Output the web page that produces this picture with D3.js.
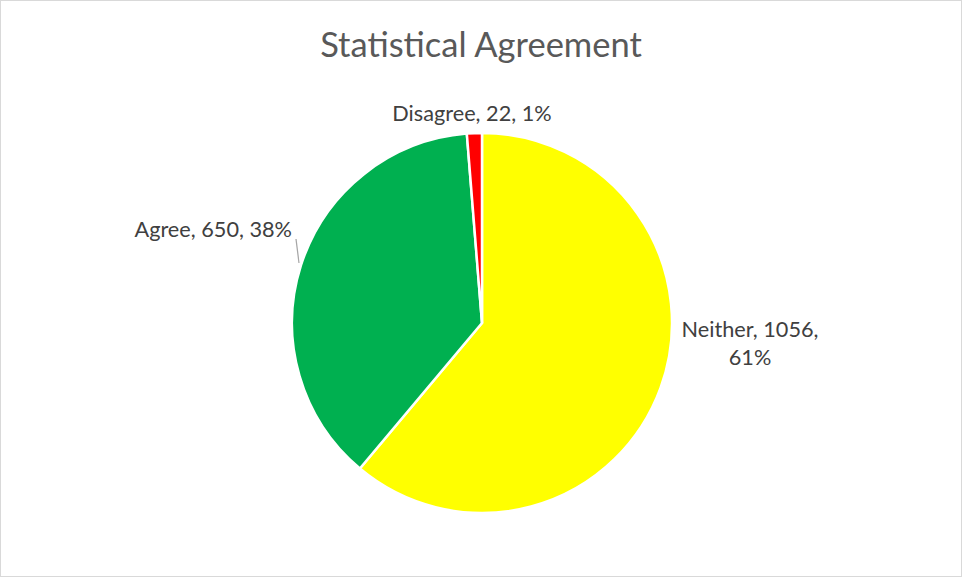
<!DOCTYPE html>
<html>
<head>
<meta charset="utf-8">
<script src="https://cdn.jsdelivr.net/npm/d3@7"></script>
<style>
  body { margin: 0; background: #fff; }
  svg text { font-family: Lato, "Open Sans", sans-serif; }
</style>
</head>
<body>
<div id="chart"></div>
<script>
// Chart data
var categories = ["Neither", "Agree", "Disagree"];
var counts = [1056, 650, 22];
var colors = ["#FFFF00", "#00B050", "#FF0000"];

var svgWidth = 962;
var svgHeight = 577;

var svg = d3.select("#chart")
  .append("svg")
  .attr("width", svgWidth)
  .attr("height", svgHeight);

// Chart area border
svg.append("rect")
  .attr("x", 0.5)
  .attr("y", 0.5)
  .attr("width", svgWidth - 1)
  .attr("height", svgHeight - 1)
  .attr("fill", "#fff")
  .attr("stroke", "#d9d9d9");

// Title
svg.append("text")
  .attr("x", 481)
  .attr("y", 57)
  .attr("text-anchor", "middle")
  .attr("fill", "#595959")
  .style("font-size", "34.5px")
  .text("Statistical Agreement");

var cx = 482, cy = 323, radius = 190;
var total = d3.sum(counts);

var rows = categories.map((c, i) => ({ name: c, value: counts[i], color: colors[i] }));

var pie = d3.pie()
  .sort(null)
  .value(d => d.value);

var arc = d3.arc()
  .innerRadius(0)
  .outerRadius(radius);

var pieGroup = svg.append("g")
  .attr("transform", `translate(${cx}, ${cy})`);

var arcs = pie(rows);

pieGroup.selectAll("path")
  .data(arcs)
  .enter()
  .append("path")
  .attr("d", arc)
  .attr("fill", d => d.data.color)
  .attr("stroke", "#fff")
  .attr("stroke-width", 2.5)
  .attr("stroke-linejoin", "round");

// Label placement (Excel "best fit"), offsets relative to pie center
var labelSpots = {
  Neither: { x: 268, y: 14, anchor: "middle", split: true },
  Agree: { x: -190, y: -86, anchor: "end" },
  Disagree: { x: -10, y: -202, anchor: "middle" }
};

var fmtPct = d => Math.round(d / total * 100) + "%";

arcs.forEach(function (d) {
  var spot = labelSpots[d.data.name];
  var t = pieGroup.append("text")
    .attr("x", spot.x)
    .attr("y", spot.y)
    .attr("text-anchor", spot.anchor)
    .attr("fill", "#404040")
    .style("font-size", "21.7px");
  if (spot.split) {
    t.append("tspan").attr("x", spot.x).text(`${d.data.name}, ${d.data.value},`);
    t.append("tspan").attr("x", spot.x).attr("dy", 28).text(fmtPct(d.data.value));
  } else {
    t.text(`${d.data.name}, ${d.data.value}, ${fmtPct(d.data.value)}`);
  }
});

// Leader line for the Agree label
pieGroup.append("line")
  .attr("x1", -186)
  .attr("y1", -84)
  .attr("x2", -183)
  .attr("y2", -60)
  .attr("stroke", "#a6a6a6")
  .attr("stroke-width", 1.2);
</script>
</body>
</html>
